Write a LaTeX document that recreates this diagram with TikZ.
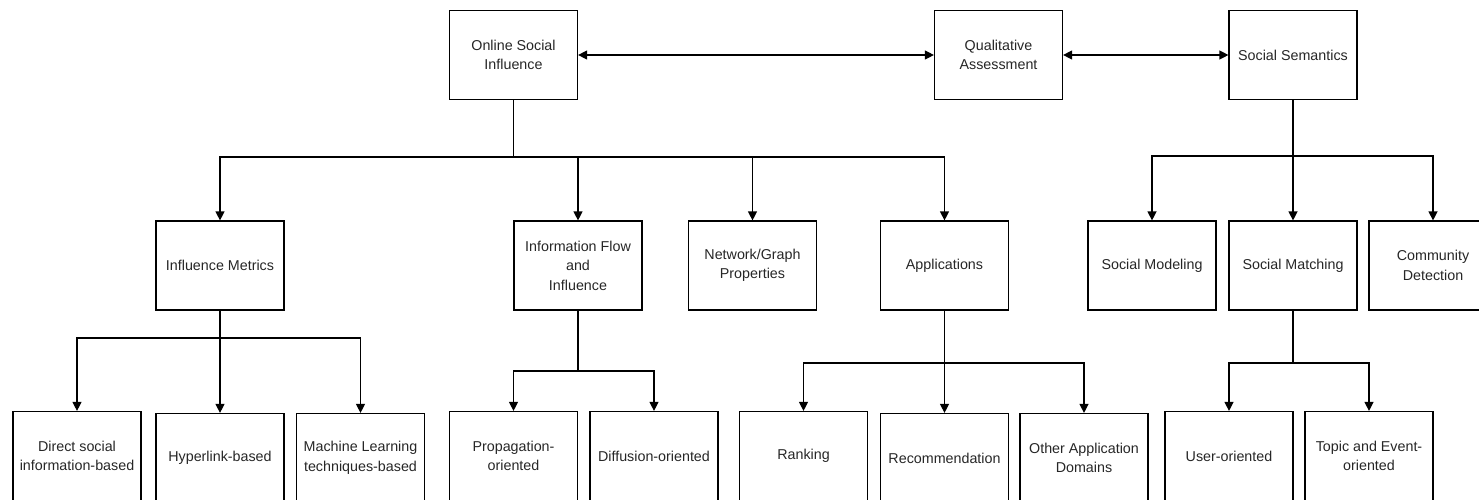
\documentclass[tikz,border=0pt]{standalone}
\usepackage{fontspec}
\setmainfont{Liberation Sans}
\usetikzlibrary{arrows.meta}
\begin{document}
\begin{tikzpicture}[x=1pt,y=-1pt,
  box/.style={draw, line width=1.2pt, minimum width=128pt, minimum height=89pt,
    inner sep=0pt, align=center, text=black!85,
    font=\fontsize{14.3}{19.5}\selectfont},
  wire/.style={line width=1.2pt},
  link/.style={wire, -{Triangle[width=9pt,length=9pt]}},
  dlink/.style={wire, {Triangle[width=9pt,length=9pt]}-{Triangle[width=9pt,length=9pt]}}]
\useasboundingbox (0,0) rectangle (1479,499);
\clip (0,0) rectangle (1479,499);

% top level
\node[box] (osi)  at (513.5,55) {Online Social\\Influence};
\node[box] (qa)   at (998.5,55) {Qualitative\\Assessment};
\node[box] (ss)   at (1293,55)  {Social Semantics};

% second level
\node[box] (im)   at (220,265.5)   {Influence Metrics};
\node[box] (ifi)  at (578,265.5)   {Information Flow\\and\\Influence};
\node[box] (ngp)  at (752.5,265.5) {Network/Graph\\Properties};
\node[box] (app)  at (944.5,265.5) {Applications};
\node[box] (smod) at (1152,265.5)  {Social Modeling};
\node[box] (smat) at (1293,265.5)  {Social Matching};
\node[box] (cd)   at (1433,265.5)  {Community\\Detection};

% third level
\node[box] (ds)   at (77,456)     {Direct social\\information-based};
\node[box] (hl)   at (220,458)    {Hyperlink-based};
\node[box] (ml)   at (360.5,458)  {Machine Learning\\techniques-based};
\node[box] (prop) at (513.5,456)  {Propagation-\\oriented};
\node[box] (diff) at (654,456)    {Diffusion-oriented};
\node[box] (rank) at (803.5,456)  {Ranking};
\node[box] (rec)  at (944.5,458)  {Recommendation};
\node[box] (oad)  at (1084,458)   {Other Application\\Domains};
\node[box] (uo)   at (1229,456)   {User-oriented};
\node[box] (te)   at (1369,456)   {Topic and Event-\\oriented};

% peer links
\draw[dlink] (osi.east) -- (qa.west);
\draw[dlink] (qa.east) -- (ss.west);

% branch points
\coordinate (jo)  at (513.5,157);
\coordinate (js)  at (1293,156);
\coordinate (jim) at (220,338);
\coordinate (jif) at (578,371);
\coordinate (jap) at (944.5,363);
\coordinate (jsm) at (1293,363);

% Online Social Influence
\draw[wire] (osi.south) -- (jo);
\draw[link] (jo) -| (im.north);
\draw[link] (jo) -| (ifi.north);
\draw[link] (jo) -| (ngp.north);
\draw[link] (jo) -| (app.north);

% Social Semantics
\draw[wire] (ss.south) -- (js);
\draw[link] (js) -| (smod.north);
\draw[link] (js) -| (smat.north);
\draw[link] (js) -| (cd.north);

% Influence Metrics
\draw[wire] (im.south) -- (jim);
\draw[link] (jim) -| (ds.north);
\draw[link] (jim) -| (hl.north);
\draw[link] (jim) -| (ml.north);

% Information Flow and Influence
\draw[wire] (ifi.south) -- (jif);
\draw[link] (jif) -| (prop.north);
\draw[link] (jif) -| (diff.north);

% Applications
\draw[wire] (app.south) -- (jap);
\draw[link] (jap) -| (rank.north);
\draw[link] (jap) -| (rec.north);
\draw[link] (jap) -| (oad.north);

% Social Matching
\draw[wire] (smat.south) -- (jsm);
\draw[link] (jsm) -| (uo.north);
\draw[link] (jsm) -| (te.north);
\end{tikzpicture}
\end{document}
